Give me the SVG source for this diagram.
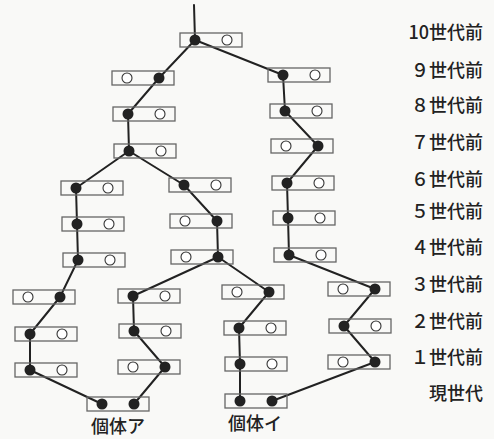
<svg xmlns="http://www.w3.org/2000/svg" width="494" height="439" viewBox="0 0 494 439">
<defs>
<style>
.bx{fill:none;stroke:#666;stroke-width:1.3}
.f{fill:#222}
.o{fill:#fff;stroke:#333;stroke-width:1.1}
.ln{stroke:#222;stroke-width:2;fill:none;stroke-linecap:round;stroke-linejoin:round}
.t{font-family:"Noto Sans CJK JP","Noto Sans",sans-serif;font-size:18px;font-weight:500;fill:#222}
.lab{font-family:"Noto Sans CJK JP","Noto Sans",sans-serif;font-size:18px;font-weight:500;fill:#222;text-anchor:middle}
</style>
</defs>
<rect width="494" height="439" fill="#f9f9f7"/>
<g id="connectors" class="ln">
<polyline points="194,5 195,40"/>
<polyline points="195,40 159,78 128,114 129,151"/>
<polyline points="195,40 283,75 285,111 318,146 287,183 288,218 289,255 375,289"/>
<polyline points="129,151 76,188 77,224 78,260 60,297 30,334 30,370 102,404"/>
<polyline points="129,151 184,185 217,221 218,257 133,296 134,331 165,367 134,404"/>
<polyline points="218,257 269,292 239,328 240,364 240,401"/>
<polyline points="375,289 344,326 375,362 272,401"/>
</g>
<g id="g10"><rect class="bx" x="180" y="33" width="62" height="14"/><circle class="f" cx="195" cy="40" r="5.5"/><circle class="o" cx="227" cy="40" r="5"/></g>
<g id="g9L"><rect class="bx" x="112" y="71" width="62" height="14"/><circle class="o" cx="127" cy="78" r="5"/><circle class="f" cx="159" cy="78" r="5.5"/></g>
<g id="g9R"><rect class="bx" x="268" y="68" width="62" height="14"/><circle class="f" cx="283" cy="75" r="5.5"/><circle class="o" cx="315" cy="75" r="5"/></g>
<g id="g8L"><rect class="bx" x="113" y="107" width="62" height="14"/><circle class="f" cx="128" cy="114" r="5.5"/><circle class="o" cx="160" cy="114" r="5"/></g>
<g id="g8R"><rect class="bx" x="270" y="104" width="62" height="14"/><circle class="f" cx="285" cy="111" r="5.5"/><circle class="o" cx="317" cy="111" r="5"/></g>
<g id="g7L"><rect class="bx" x="114" y="144" width="62" height="14"/><circle class="f" cx="129" cy="151" r="5.5"/><circle class="o" cx="161" cy="151" r="5"/></g>
<g id="g7R"><rect class="bx" x="271" y="139" width="62" height="14"/><circle class="o" cx="286" cy="146" r="5"/><circle class="f" cx="318" cy="146" r="5.5"/></g>
<g id="g6L"><rect class="bx" x="61" y="181" width="62" height="14"/><circle class="f" cx="76" cy="188" r="5.5"/><circle class="o" cx="108" cy="188" r="5"/></g>
<g id="g6M"><rect class="bx" x="169" y="178" width="62" height="14"/><circle class="f" cx="184" cy="185" r="5.5"/><circle class="o" cx="216" cy="185" r="5"/></g>
<g id="g6R"><rect class="bx" x="272" y="176" width="62" height="14"/><circle class="f" cx="287" cy="183" r="5.5"/><circle class="o" cx="319" cy="183" r="5"/></g>
<g id="g5L"><rect class="bx" x="62" y="217" width="62" height="14"/><circle class="f" cx="77" cy="224" r="5.5"/><circle class="o" cx="109" cy="224" r="5"/></g>
<g id="g5M"><rect class="bx" x="170" y="214" width="62" height="14"/><circle class="o" cx="185" cy="221" r="5"/><circle class="f" cx="217" cy="221" r="5.5"/></g>
<g id="g5R"><rect class="bx" x="273" y="211" width="62" height="14"/><circle class="f" cx="288" cy="218" r="5.5"/><circle class="o" cx="320" cy="218" r="5"/></g>
<g id="g4L"><rect class="bx" x="63" y="253" width="62" height="14"/><circle class="f" cx="78" cy="260" r="5.5"/><circle class="o" cx="110" cy="260" r="5"/></g>
<g id="g4M"><rect class="bx" x="171" y="250" width="62" height="14"/><circle class="o" cx="186" cy="257" r="5"/><circle class="f" cx="218" cy="257" r="5.5"/></g>
<g id="g4R"><rect class="bx" x="274" y="248" width="62" height="14"/><circle class="f" cx="289" cy="255" r="5.5"/><circle class="o" cx="321" cy="255" r="5"/></g>
<g id="g3a"><rect class="bx" x="13" y="290" width="62" height="14"/><circle class="o" cx="28" cy="297" r="5"/><circle class="f" cx="60" cy="297" r="5.5"/></g>
<g id="g3b"><rect class="bx" x="118" y="289" width="62" height="14"/><circle class="f" cx="133" cy="296" r="5.5"/><circle class="o" cx="165" cy="296" r="5"/></g>
<g id="g3c"><rect class="bx" x="222" y="285" width="62" height="14"/><circle class="o" cx="237" cy="292" r="5"/><circle class="f" cx="269" cy="292" r="5.5"/></g>
<g id="g3d"><rect class="bx" x="328" y="282" width="62" height="14"/><circle class="o" cx="343" cy="289" r="5"/><circle class="f" cx="375" cy="289" r="5.5"/></g>
<g id="g2a"><rect class="bx" x="15" y="327" width="62" height="14"/><circle class="f" cx="30" cy="334" r="5.5"/><circle class="o" cx="62" cy="334" r="5"/></g>
<g id="g2b"><rect class="bx" x="119" y="324" width="62" height="14"/><circle class="f" cx="134" cy="331" r="5.5"/><circle class="o" cx="166" cy="331" r="5"/></g>
<g id="g2c"><rect class="bx" x="224" y="321" width="62" height="14"/><circle class="f" cx="239" cy="328" r="5.5"/><circle class="o" cx="271" cy="328" r="5"/></g>
<g id="g2d"><rect class="bx" x="329" y="319" width="62" height="14"/><circle class="f" cx="344" cy="326" r="5.5"/><circle class="o" cx="376" cy="326" r="5"/></g>
<g id="g1a"><rect class="bx" x="15" y="363" width="62" height="14"/><circle class="f" cx="30" cy="370" r="5.5"/><circle class="o" cx="62" cy="370" r="5"/></g>
<g id="g1b"><rect class="bx" x="118" y="360" width="62" height="14"/><circle class="o" cx="133" cy="367" r="5"/><circle class="f" cx="165" cy="367" r="5.5"/></g>
<g id="g1c"><rect class="bx" x="225" y="357" width="62" height="14"/><circle class="f" cx="240" cy="364" r="5.5"/><circle class="o" cx="272" cy="364" r="5"/></g>
<g id="g1d"><rect class="bx" x="328" y="355" width="62" height="14"/><circle class="o" cx="343" cy="362" r="5"/><circle class="f" cx="375" cy="362" r="5.5"/></g>
<g id="kotaiA"><rect class="bx" x="87" y="397" width="62" height="14"/><circle class="f" cx="102" cy="404" r="5.5"/><circle class="f" cx="134" cy="404" r="5.5"/><text class="lab" x="118" y="433">個体ア</text></g>
<g id="kotaiI"><rect class="bx" x="225" y="394" width="62" height="14"/><circle class="f" cx="240" cy="401" r="5.5"/><circle class="f" cx="272" cy="401" r="5.5"/><text class="lab" x="255" y="430">個体イ</text></g>
<g id="gen-labels" class="t" text-anchor="end">
<text x="483" y="39">10世代前</text>
<text x="483" y="77">９世代前</text>
<text x="483" y="112">８世代前</text>
<text x="483" y="149">７世代前</text>
<text x="483" y="186">６世代前</text>
<text x="483" y="218">５世代前</text>
<text x="483" y="254">４世代前</text>
<text x="483" y="291">３世代前</text>
<text x="483" y="328">２世代前</text>
<text x="483" y="364">１世代前</text>
<text x="483" y="400">現世代</text>
</g>
</svg>
